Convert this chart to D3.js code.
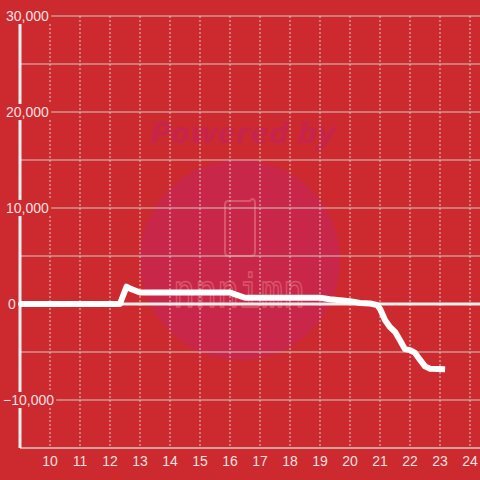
<!DOCTYPE html>
<html>
<head>
<meta charset="utf-8">
<script src="https://cdn.jsdelivr.net/npm/d3@7"></script>
<style>
  html, body { margin: 0; padding: 0; background: #cd2a2f; }
  svg { display: block; }
</style>
</head>
<body>
<svg id="chart" width="480" height="480"></svg>
<script>
// 数据: 小时 / 数值
const hours = [9.0, 12.33, 12.55, 12.67, 13.0, 16.0, 16.17, 16.5, 19.0, 19.33, 19.67, 20.0,
  20.33, 20.67, 20.9, 21.0, 21.17, 21.33, 21.5, 21.67, 21.83, 22.0, 22.17, 22.33, 22.5, 22.67, 23.17];
const values = [0, 0, 1800, 1600, 1200, 1200, 1000, 650, 650, 500, 400, 300,
  100, 50, -100, -500, -1700, -2400, -2900, -3800, -4700, -4800, -5100, -5800, -6500, -6750, -6800];
const xTicks = [10, 11, 12, 13, 14, 15, 16, 17, 18, 19, 20, 21, 22, 23, 24];
const yTicks = [30000, 20000, 10000, 0, -10000];
const yGrid = [30000, 25000, 20000, 15000, 10000, 5000, -5000, -10000];

const width = 480, height = 480;
const margin = { top: 16, right: 0, bottom: 32, left: 20 };
const bg = "#cd2a2f";
const gridColor = "#d2c8c8";
const labelColor = "rgba(255,255,255,0.88)";

const svg = d3.select("#chart");
const x = d3.scaleLinear([9, 24.333], [margin.left, width - margin.right]);
const y = d3.scaleLinear([30000, -15000], [margin.top, height - margin.bottom]);

svg.append("rect").attr("width", width).attr("height", height).attr("fill", bg);

// 水印
const wm = svg.append("g").attr("class", "watermark");
wm.append("circle").attr("cx", 240).attr("cy", 260).attr("r", 100).attr("fill", "#c8274a");
wm.append("text")
  .text("Powered by")
  .attr("x", 150).attr("y", 143)
  .attr("textLength", 185)
  .attr("lengthAdjust", "spacingAndGlyphs")
  .attr("font-family", "Open Sans, sans-serif")
  .attr("font-weight", "bold").attr("font-style", "italic")
  .attr("font-size", 28)
  .attr("fill", "#c6244b");
wm.append("path")
  .attr("d", "M228,201 H250 L252,199 Q255,199 255,203 V252 Q255,256 251,256 H229 Q225,256 225,252 V205 Q225,201 228,201 Z")
  .attr("fill", "none").attr("stroke", "#d9566b").attr("stroke-width", 2);
wm.append("text")
  .text("nnnimn")
  .attr("x", 173).attr("y", 307)
  .attr("textLength", 132)
  .attr("lengthAdjust", "spacingAndGlyphs")
  .attr("font-family", "DejaVu Sans Mono, monospace")
  .attr("font-size", 46)
  .attr("fill", "none").attr("stroke", "#d9566b").attr("stroke-width", 1.6);

// 网格
svg.append("g").attr("class", "xgrid")
  .selectAll("line").data(xTicks).join("line")
  .attr("x1", d => x(d)).attr("x2", d => x(d))
  .attr("y1", y(30000)).attr("y2", y(-15000))
  .attr("stroke", gridColor).attr("stroke-width", 1)
  .attr("stroke-dasharray", "2,2");
svg.append("g").attr("class", "ygrid")
  .selectAll("line").data(yGrid).join("line")
  .attr("x1", x(9)).attr("x2", width)
  .attr("y1", d => y(d)).attr("y2", d => y(d))
  .attr("stroke", gridColor).attr("stroke-width", 1);

// x轴
svg.append("line")
  .attr("x1", x(9)).attr("x2", width)
  .attr("y1", y(-15000)).attr("y2", y(-15000))
  .attr("stroke", gridColor).attr("stroke-width", 1.5);
svg.append("g").attr("class", "xlabels")
  .selectAll("text").data(xTicks).join("text")
  .text(d => d)
  .attr("x", d => x(d)).attr("y", y(-15000) + 18)
  .attr("text-anchor", "middle")
  .attr("font-family", "Liberation Sans, Arial, sans-serif")
  .attr("font-size", 14)
  .attr("fill", labelColor);

// y轴 + 零线
svg.append("line")
  .attr("x1", x(9)).attr("x2", x(9))
  .attr("y1", y(30000)).attr("y2", y(-15000))
  .attr("stroke", "#f4eeee").attr("stroke-width", 3);
svg.append("line")
  .attr("x1", 17).attr("x2", width)
  .attr("y1", y(0)).attr("y2", y(0))
  .attr("stroke", "#f4eeee").attr("stroke-width", 3);

// 曲线
const line = d3.line().x((d, i) => x(hours[i])).y(d => y(d));
svg.append("path")
  .datum(values)
  .attr("d", line)
  .attr("fill", "none")
  .attr("stroke", "#ffffff")
  .attr("stroke-width", 6)
  .attr("stroke-linejoin", "round");

// y标签 (带背景)
const fmt = d3.format(",");
const yLab = svg.append("g").attr("class", "ylabels")
  .selectAll("g").data(yTicks).join("g")
  .attr("transform", d => `translate(${d < 0 ? 3 : d === 0 ? 8 : 6}, ${y(d)})`);
yLab.append("text")
  .text(d => fmt(d))
  .attr("dy", "0.36em")
  .attr("font-family", "Liberation Sans, Arial, sans-serif")
  .attr("font-size", 14)
  .attr("fill", labelColor);
yLab.each(function (d) {
  const g = d3.select(this);
  const bb = g.select("text").node().getBBox();
  g.insert("rect", "text")
    .attr("x", -6).attr("y", -8)
    .attr("width", bb.width + 8).attr("height", 16)
    .attr("fill", bg);
});
</script>
</body>
</html>
